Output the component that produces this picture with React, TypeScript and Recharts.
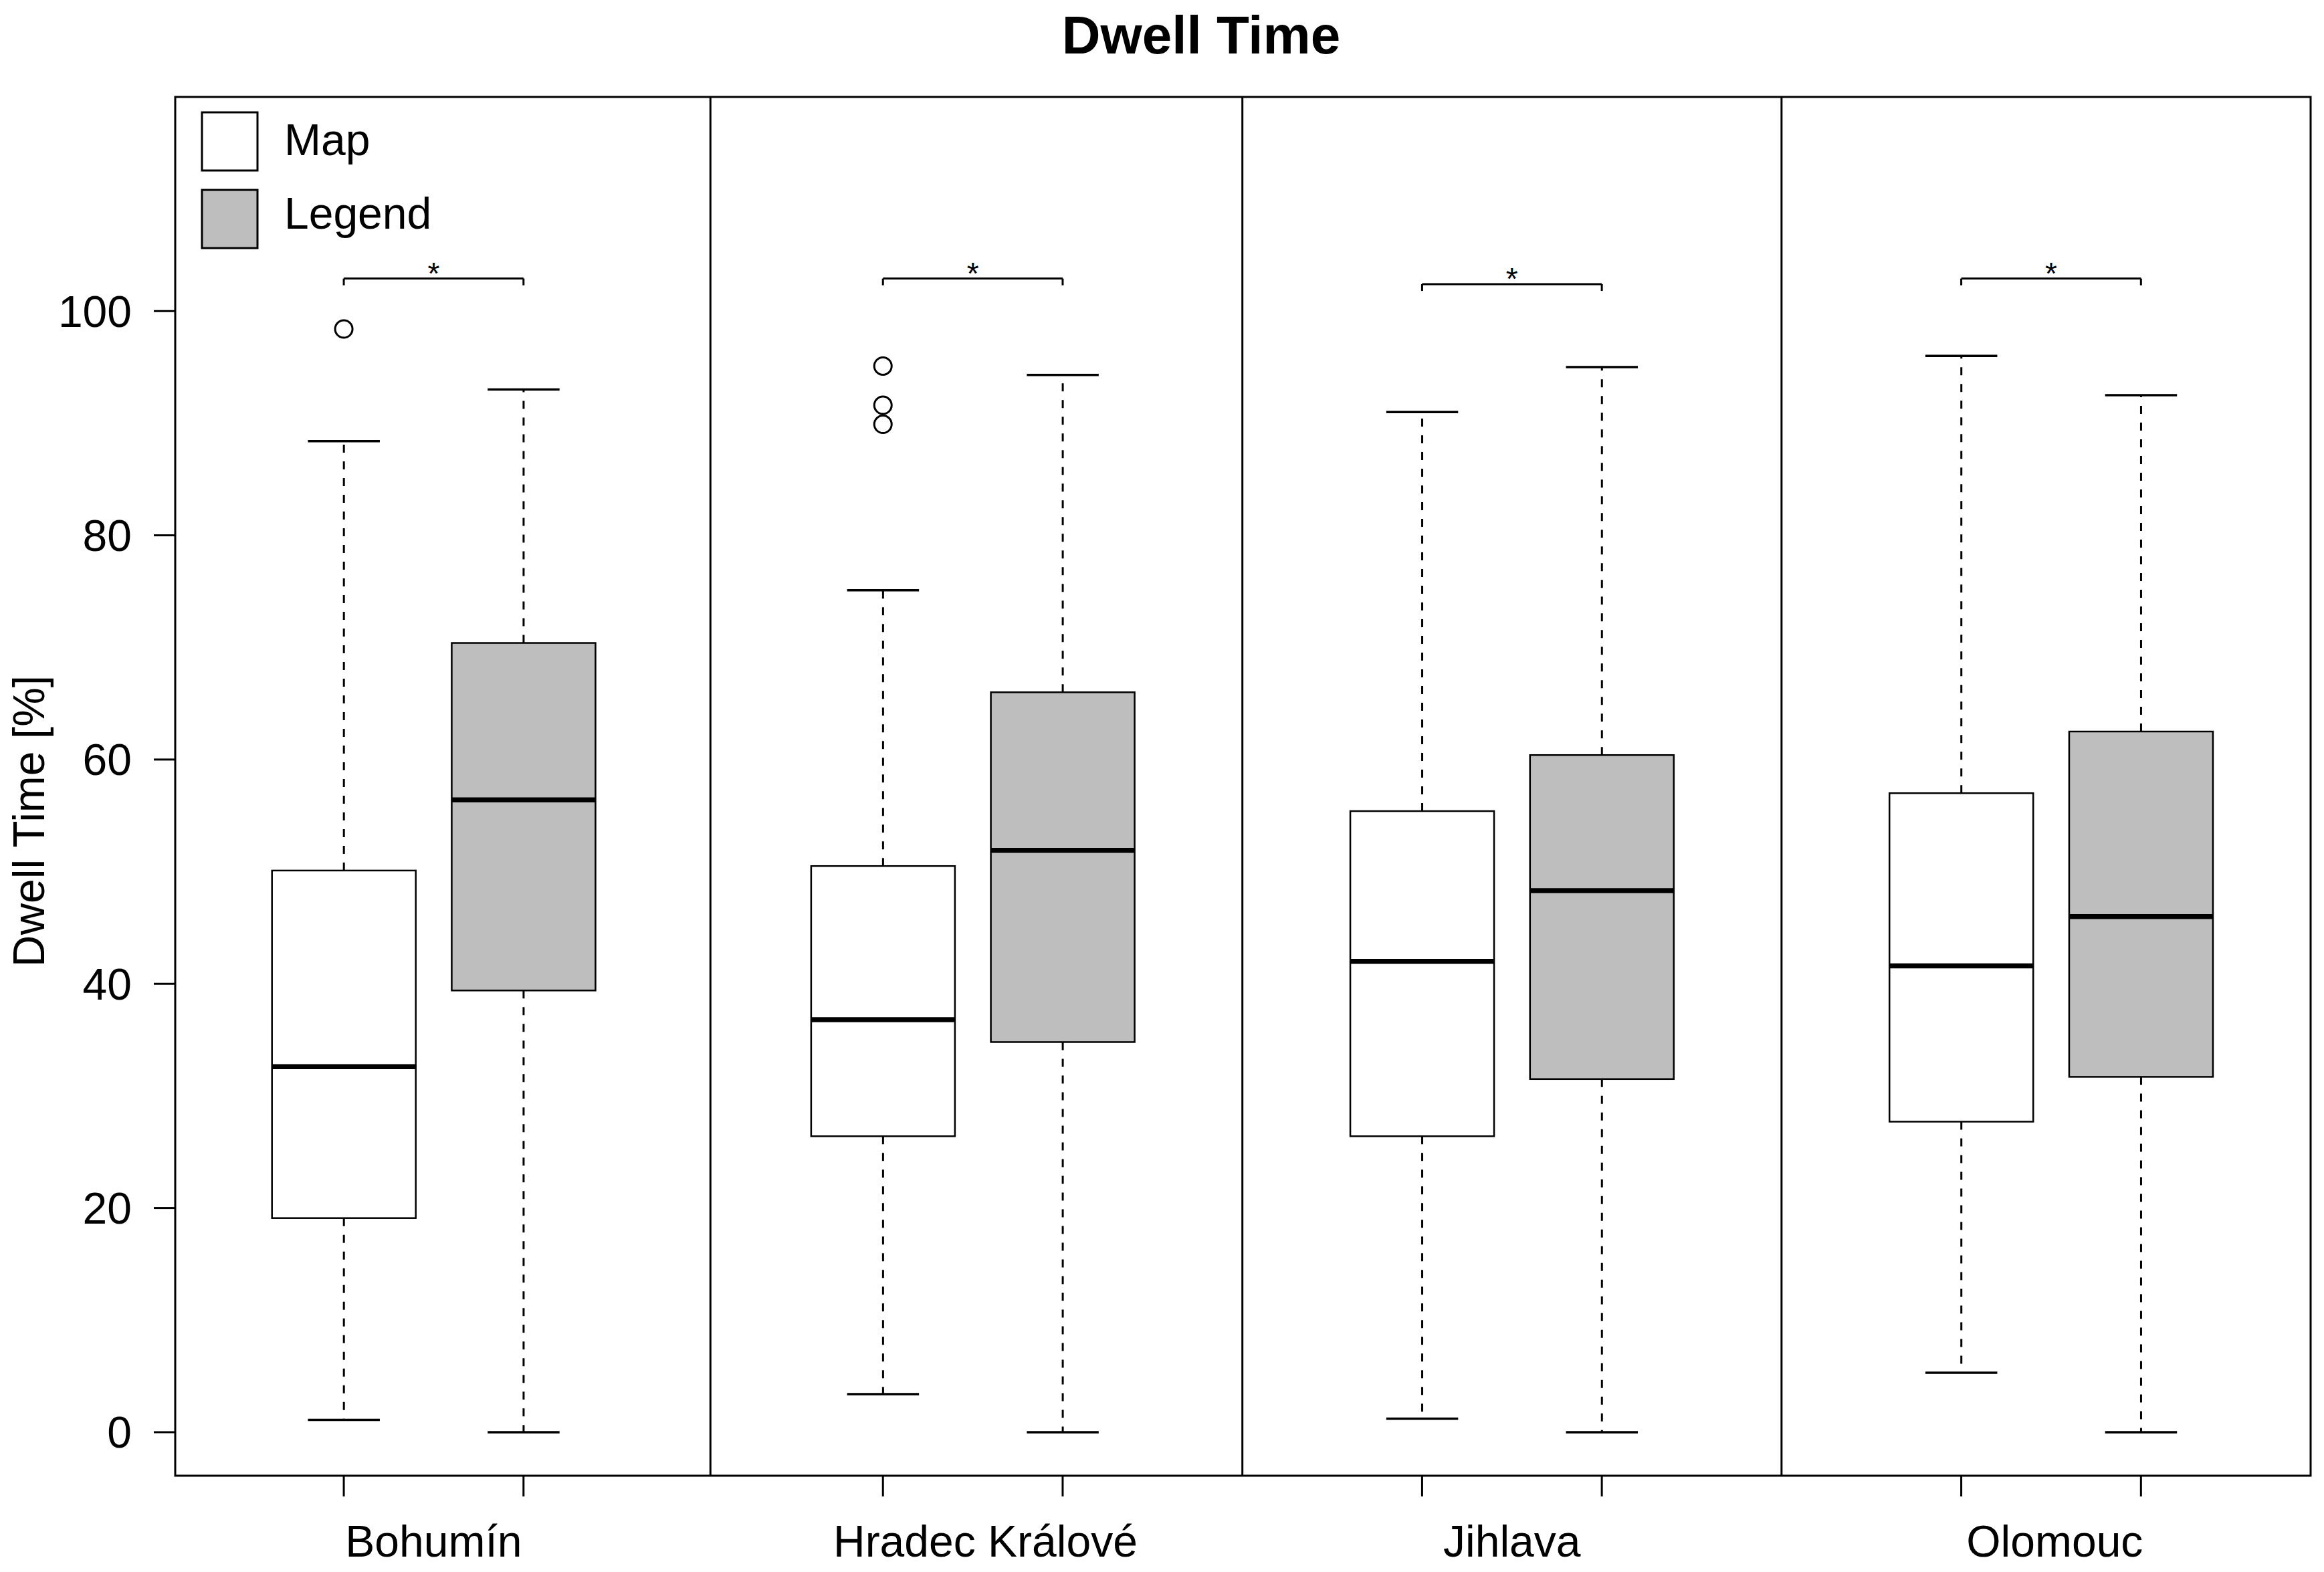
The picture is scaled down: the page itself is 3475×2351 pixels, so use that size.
import React from "react";
import {
  ComposedChart, Bar, Scatter, XAxis, YAxis, ReferenceLine, ReferenceArea,
} from "recharts";

// values (Dwell Time [%])
const CITIES = ["Bohumín", "Hradec Králové", "Jihlava", "Olomouc"];
const SERIES = ["Map", "Legend"];
const SERIES_FILLS = ["#FFFFFF", "#BEBEBE"];

const MAP_POS = [1, 4, 7, 10];
const LEGEND_POS = [2, 5, 8, 11];
const LABEL_POS = [1.5, 4.57, 7.5, 10.52];
const DIVIDERS = [3.04, 6, 9];

const MAP_MIN = [1.1, 3.4, 1.2, 5.3];
const MAP_Q1 = [19.1, 26.4, 26.4, 27.7];
const MAP_MED = [32.6, 36.8, 42.0, 41.6];
const MAP_Q3 = [50.1, 50.5, 55.4, 57.0];
const MAP_MAX = [88.4, 75.1, 91.0, 96.0];

const LEG_MIN = [0, 0, 0, 0];
const LEG_Q1 = [39.4, 34.8, 31.5, 31.7];
const LEG_MED = [56.4, 51.9, 48.3, 46.0];
const LEG_Q3 = [70.4, 66.0, 60.4, 62.5];
const LEG_MAX = [93.0, 94.3, 95.0, 92.5];

// outliers of the Map boxes
const OUTLIER_POS = [1, 4, 4, 4];
const OUTLIER_VAL = [98.4, 95.1, 91.6, 89.9];

// significance brackets
const BRACKET_Y = [102.9, 102.9, 102.4, 102.9];

const Y_TICKS = [0, 20, 40, 60, 80, 100];
const X_DOMAIN = [0.062, 11.944];
const Y_DOMAIN = [-3.88, 119.1];

const FONT = "'Liberation Sans', Arial, Helvetica, sans-serif";

const rows = CITIES.flatMap((_, i) => [
  {
    pos: MAP_POS[i], min: MAP_MIN[i], q1: MAP_Q1[i], med: MAP_MED[i], q3: MAP_Q3[i], max: MAP_MAX[i],
    range: [MAP_MIN[i], MAP_MAX[i]], fill: SERIES_FILLS[0],
  },
  {
    pos: LEGEND_POS[i], min: LEG_MIN[i], q1: LEG_Q1[i], med: LEG_MED[i], q3: LEG_Q3[i], max: LEG_MAX[i],
    range: [LEG_MIN[i], LEG_MAX[i]], fill: SERIES_FILLS[1],
  },
]);

const outliers = OUTLIER_POS.map((p, i) => ({ pos: p, val: OUTLIER_VAL[i] }));

function BoxShape(props: any) {
  const { x, y, width, height, payload } = props;
  if (!payload) return null;
  const { min, q1, med, q3, max, fill } = payload;
  // the bar spans min..max, so every other stat sits linearly inside it
  const py = (v: number) => y + ((max - v) / (max - min)) * height;
  const cx = x + width / 2;
  const cap = width / 4;
  return (
    <g>
      <line x1={cx} x2={cx} y1={py(q3)} y2={py(max)} stroke="#000" strokeWidth={3} strokeDasharray="12 13" />
      <line x1={cx} x2={cx} y1={py(q1)} y2={py(min)} stroke="#000" strokeWidth={3} strokeDasharray="12 13" />
      <line x1={cx - cap} x2={cx + cap} y1={py(max)} y2={py(max)} stroke="#000" strokeWidth={3.5} />
      <line x1={cx - cap} x2={cx + cap} y1={py(min)} y2={py(min)} stroke="#000" strokeWidth={3.5} />
      <rect x={x} y={py(q3)} width={width} height={py(q1) - py(q3)} fill={fill} stroke="#000" strokeWidth={2.5} />
      <line x1={x} x2={x + width} y1={py(med)} y2={py(med)} stroke="#000" strokeWidth={7.5} />
    </g>
  );
}

function XTick(props: any) {
  const { x, y, payload } = props;
  const idx = LABEL_POS.indexOf(payload.value);
  if (idx >= 0) {
    return (
      <text x={x} y={y + 121} textAnchor="middle" fontSize={66} fontFamily={FONT} fill="#000">
        {CITIES[idx]}
      </text>
    );
  }
  return <line x1={x} x2={x} y1={y} y2={y + 31} stroke="#000" strokeWidth={3} />;
}

export default function App() {
  return (
    <div style={{ position: "absolute", left: 0, top: 0, width: 3475, height: 2351, background: "#fff" }}>
      <ComposedChart
        width={3475}
        height={2351}
        data={rows}
        margin={{ top: 145, right: 20, left: 0, bottom: 0 }}
      >
        <XAxis
          type="number"
          dataKey="pos"
          domain={X_DOMAIN}
          allowDataOverflow
          ticks={[...MAP_POS, ...LABEL_POS, ...LEGEND_POS].sort((a, b) => a - b)}
          interval={0}
          tick={<XTick />}
          tickLine={false}
          axisLine={false}
          tickSize={0}
          tickMargin={0}
          height={144}
        />
        <YAxis
          type="number"
          domain={Y_DOMAIN}
          allowDataOverflow
          ticks={Y_TICKS}
          interval={0}
          width={262}
          axisLine={false}
          tickLine={{ stroke: "#000", strokeWidth: 3 }}
          tickSize={32}
          tickMargin={33}
          tick={{ fontSize: 66, fill: "#000", fontFamily: FONT }}
          label={{
            content: ({ viewBox }: any) => (
              <text
                x={66}
                y={viewBox.y + viewBox.height / 2 + 52}
                transform={`rotate(-90, 66, ${viewBox.y + viewBox.height / 2 + 52})`}
                textAnchor="middle"
                fontSize={66}
                fontFamily={FONT}
                fill="#000"
              >
                Dwell Time [%]
              </text>
            ),
          }}
        />
        <ReferenceArea
          x1={X_DOMAIN[0]}
          x2={X_DOMAIN[1]}
          y1={Y_DOMAIN[0]}
          y2={Y_DOMAIN[1]}
          fill="none"
          stroke="#000"
          strokeWidth={3}
          ifOverflow="extendDomain"
        />
        {DIVIDERS.map((d) => (
          <ReferenceLine key={d} x={d} stroke="#000" strokeWidth={3} />
        ))}
        <Bar dataKey="range" barSize={215} shape={BoxShape} isAnimationActive={false} />
        <Scatter
          data={outliers}
          dataKey="val"
          isAnimationActive={false}
          shape={(p: any) => <circle cx={p.cx} cy={p.cy} r={13} fill="none" stroke="#000" strokeWidth={3} />}
        />
        {BRACKET_Y.map((by, i) => (
          <React.Fragment key={i}>
            <ReferenceLine
              segment={[{ x: MAP_POS[i], y: by }, { x: LEGEND_POS[i], y: by }]}
              stroke="#000"
              strokeWidth={3}
              label={{ value: "*", position: "top", offset: -8, fontSize: 46, fill: "#000", fontFamily: FONT }}
            />
            <ReferenceLine segment={[{ x: MAP_POS[i], y: by }, { x: MAP_POS[i], y: by - 0.6 }]} stroke="#000" strokeWidth={3} />
            <ReferenceLine segment={[{ x: LEGEND_POS[i], y: by }, { x: LEGEND_POS[i], y: by - 0.6 }]} stroke="#000" strokeWidth={3} />
          </React.Fragment>
        ))}
      </ComposedChart>
      <svg
        width={3475}
        height={2351}
        style={{ position: "absolute", left: 0, top: 0, pointerEvents: "none" }}
      >
        <text x={1796} y={80} textAnchor="middle" fontSize={80} fontWeight="bold" fontFamily={FONT} fill="#000">
          Dwell Time
        </text>
        {SERIES.map((name, i) => (
          <g key={name}>
            <rect x={302} y={168 + i * 116} width={83} height={87} fill={SERIES_FILLS[i]} stroke="#000" strokeWidth={3} />
            <text x={425} y={232 + i * 110} fontSize={66} fontFamily={FONT} fill="#000">
              {name}
            </text>
          </g>
        ))}
      </svg>
    </div>
  );
}
